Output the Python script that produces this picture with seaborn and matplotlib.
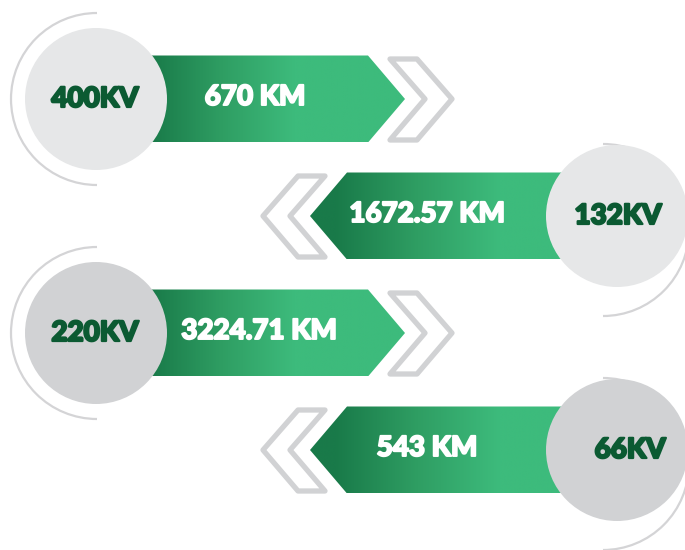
import numpy as np
import matplotlib
matplotlib.use("Agg")
import matplotlib.pyplot as plt
import matplotlib.patheffects as pe
import seaborn as sns
from matplotlib.patches import Polygon, Circle, Arc
from matplotlib.colors import LinearSegmentedColormap

# data
voltages = ["400KV", "132KV", "220KV", "66KV"]
lengths_km = [670, 1672.57, 3224.71, 543]
sides = ["left", "right", "left", "right"]
circle_colors = ["#e6e7e8", "#e6e7e8", "#d1d2d4", "#d1d2d4"]

sns.set_theme(style="white")
plt.rcParams['font.family'] = ['Lato', 'DejaVu Sans']

W, H = 685, 550
fig = plt.figure(figsize=(W / 100, H / 100), dpi=100)
ax = fig.add_axes([0, 0, 1, 1])
ax.set_xlim(0, W)
ax.set_ylim(H, 0)
ax.set_aspect("equal")
ax.axis("off")

green_cmap = LinearSegmentedColormap.from_list("band", ["#197a49", "#2f9e63", "#3dbb7c"])
grey = "#d1d2d4"
kv_green = "#0b5a32"

for i, (kv, km, side) in enumerate(zip(voltages, lengths_km, sides)):
    cy = 99 + 117 * i
    half = 43.5
    if side == "left":
        cx, tip = 96, 405
        band = [(140, cy - half), (tip - 37, cy - half), (tip, cy),
                (tip - 37, cy + half), (140, cy + half)]
        g0, g1 = 150, 295
        x0, x1 = 140, tip
        chev = [(390, cy - 40), (417, cy - 40), (452, cy), (417, cy + 41),
                (390, cy + 41), (425, cy)]
        arc = Arc((97, cy), 172, 172, theta1=90, theta2=270, color="#d4d4d6", lw=1.6)
        text_x = 255 if i == 0 else 259
        kv_x = 95
    else:
        cx, tip = 617, 310
        band = [(640, cy - half), (tip + 37, cy - half), (tip, cy),
                (tip + 37, cy + half), (640, cy + half)]
        g0, g1 = 335, 500
        x0, x1 = tip, 640
        chev = [(325, cy - 40), (298, cy - 40), (263, cy), (298, cy + 41),
                (325, cy + 41), (290, cy)]
        arc = Arc((603, cy + 14), 172, 172, theta1=-90, theta2=90, color="#d4d4d6", lw=1.6)
        text_x = 427
        kv_x = 618 if i == 1 else 630

    ax.add_patch(arc)

    # gradient band clipped to arrow shape
    xs = np.linspace(x0, x1, 400)
    ramp = np.clip((xs - g0) / (g1 - g0), 0, 1)[None, :]
    poly = Polygon(band, closed=True, facecolor="none", edgecolor="none")
    ax.add_patch(poly)
    im = ax.imshow(ramp, cmap=green_cmap, vmin=0, vmax=1, aspect="auto",
                   extent=(x0, x1, cy + half, cy - half), zorder=2,
                   interpolation="bilinear")
    im.set_clip_path(poly)

    ax.add_patch(Polygon(chev, closed=True, facecolor="none", edgecolor=grey,
                         lw=3.8, joinstyle="round", zorder=2))

    ax.add_patch(Circle((cx, cy), 71, facecolor=circle_colors[i], edgecolor="none", zorder=3))

    ax.text(kv_x, cy, kv, ha="center", va="center", fontsize=20, fontweight="black",
            color=kv_green, zorder=4,
            path_effects=[pe.withStroke(linewidth=1.6, foreground=kv_green)])
    ax.text(text_x, cy - 2, f"{km:g} KM", ha="center", va="center", fontsize=20,
            fontweight="black", color="white", zorder=4,
            path_effects=[pe.withStroke(linewidth=1.4, foreground="white")])

fig.savefig("out.png", dpi=100)
